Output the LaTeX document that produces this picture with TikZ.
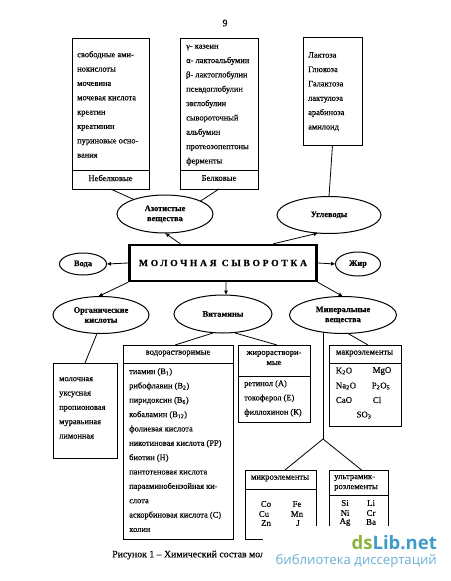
\documentclass[tikz,border=0pt]{standalone}
\usepackage{fontspec}
\setmainfont[FakeBold=0.25]{Liberation Serif}
\newfontfamily\marksans{Open Sans}
\usetikzlibrary{arrows.meta,calc,shapes.geometric}

\definecolor{markgreen}{HTML}{8DB33C}
\definecolor{markblue}{HTML}{3F9BCB}
\definecolor{markpale}{HTML}{6CAFD8}

\tikzset{
    box/.style={draw, line width=0.9pt, minimum width=#1, inner sep=0pt, outer sep=0pt, anchor=north west},
    blob/.style={draw, line width=1pt, ellipse, inner sep=0pt, outer sep=0pt, font=\fontsize{8.4}{10}\selectfont\bfseries, align=center},
    itemtext/.style={anchor=north west, inner sep=0pt, align=left, font=\fontsize{8.4}{14.35}\selectfont},
    headtext/.style={inner sep=0pt, align=center, font=\fontsize{8.6}{10}\selectfont},
    chem/.style={inner sep=0pt, font=\fontsize{8.8}{10}\selectfont},
    link/.style={line width=0.8pt},
    feed/.style={line width=0.8pt, -{Latex[length=4.5pt,width=4pt]}},
}

\begin{document}
\begin{tikzpicture}[x=1pt,y=-1pt]
    \useasboundingbox (0,0) rectangle (450,581);

    % page number
    \node[inner sep=0pt, font=\fontsize{10}{12}\selectfont] (pagenum) at (225,23) {9};

    % boxes of the upper row
    \node[box=77pt, minimum height=151pt] (nonprotein) at (72,38) {};
    \draw[link] (72,170) -- (149,170);
    \node[itemtext] (nonproteinlist) at (77,51) {свободные ами-\\нокислоты\\мочевина\\мочевая кислота\\креатин\\креатинин\\пуриновые осно-\\вания};
    \node[headtext] (nonproteinhead) at (110.5,178) {Небелковые};

    \node[box=78pt, minimum height=151pt] (protein) at (180,38) {};
    \draw[link] (180,170) -- (258,170);
    \node[itemtext] (proteinlist) at (186,44.5) {γ- казеин\\α- лактоальбумин\\β- лактоглобулин\\псевдоглобулин\\эвглобулин\\сывороточный\\альбумин\\протеозопептоны\\ферменты};
    \node[headtext] (proteinhead) at (219,178) {Белковые};

    \node[box=59pt, minimum height=108pt] (sugars) at (303,37) {};
    \node[itemtext] (sugarslist) at (308,52) {Лактоза\\Глюкоза\\Галактоза\\лактулоза\\арабиноза\\амилоид};

    % ellipses
    \node[blob, minimum width=96pt, minimum height=38pt] (azot) at (165,214) {Азотистые\\вещества};
    \node[blob, minimum width=104pt, minimum height=37pt] (carbo) at (329,215) {Углеводы};
    \node[blob, minimum width=47pt, minimum height=22pt] (water) at (83,264) {Вода};
    \node[blob, minimum width=45pt, minimum height=24pt] (fat) at (358,264) {Жир};
    \node[blob, minimum width=96pt, minimum height=37pt] (acids) at (101,315) {Органические\\кислоты};
    \node[blob, minimum width=98pt, minimum height=38pt] (vitamins) at (223,314) {Витамины};
    \node[blob, minimum width=107pt, minimum height=37pt] (minerals) at (343,315) {Минеральные\\вещества};

    % central box
    \node[draw, line width=2.4pt, minimum width=187pt, minimum height=36pt, inner sep=0pt,
        font=\fontsize{9.6}{11}\selectfont\bfseries] (whey) at (223,263) {\raisebox{-3pt}{\addfontfeature{LetterSpace=28}МОЛОЧНАЯ СЫВОРОТКА}};

    % boxes of the lower rows
    \node[box=64pt, minimum height=95pt] (acidsbox) at (53,363) {};
    \node[itemtext] (acidslist) at (59,377) {молочная\\уксусная\\пропионовая\\муравьиная\\лимонная};

    \node[box=110pt, minimum height=194pt] (watersol) at (123,345) {};
    \draw[link] (123,363) -- (233,363);
    \node[headtext] (watersolhead) at (178,353.5) {водорастворимые};
    \node[itemtext] (watersollist) at (129,368) {тиамин (B\textsubscript{1})\\рибофлавин (B\textsubscript{2})\\пиридоксин (B\textsubscript{6})\\кобаламин (B\textsubscript{12})\\фолиевая кислота\\никотиновая кислота (РР)\\биотин (Н)\\пантотеновая кислота\\парааминобензойная ки-\\слота\\аскорбиновая кислота (С)\\холин};

    \node[box=72pt, minimum height=77pt] (fatsol) at (238,345) {};
    \draw[link] (238,376) -- (310,376);
    \node[headtext] (fatsolhead) at (274,358) {жирораствори-\\мые};
    \node[itemtext] (fatsollist) at (244,380) {ретинол (А)\\токоферол (Е)\\филлохинон (К)};

    \node[box=72pt, minimum height=81pt] (macro) at (329,345) {};
    \draw[link] (329,363) -- (401,363);
    \node[headtext] (macrohead) at (364.5,353.5) {макроэлементы};
    \node[chem] (kto) at (344,371) {K\textsubscript{2}O};
    \node[chem] (mgo) at (382,371) {MgO};
    \node[chem] (nato) at (346,386) {Na\textsubscript{2}O};
    \node[chem] (ptoc) at (381,386) {P\textsubscript{2}O\textsubscript{5}};
    \node[chem] (cao) at (344,400) {CaO};
    \node[chem] (cl) at (377,400) {Cl};
    \node[chem] (sot) at (364,415) {SO\textsubscript{3}};

    \node[box=71pt, minimum height=69pt] (micro) at (245,470) {};
    \draw[link] (245,489) -- (316,489);
    \node[headtext] (microhead) at (280,478.5) {микроэлементы};
    \node[chem] (co) at (266,504) {Co};
    \node[chem] (fe) at (297,504) {Fe};
    \node[chem] (cu) at (264,514) {Cu};
    \node[chem] (mn) at (297,514) {Mn};
    \node[chem] (zn) at (266,523) {Zn};
    \node[chem] (jod) at (298,523) {J};

    \node[box=59pt, minimum height=69pt] (ultra) at (329,470) {};
    \draw[link] (329,495) -- (388,495);
    \node[headtext, anchor=west, align=left] (ultrahead) at (334,483) {ультрамик-\\розлементы};
    \node[chem] (si) at (345,503) {Si};
    \node[chem] (li) at (371,503) {Li};
    \node[chem] (ni) at (345,513) {Ni};
    \node[chem] (cr) at (371,513) {Cr};
    \node[chem] (ag) at (345,522) {Ag};
    \node[chem] (ba) at (371,522) {Ba};

    % connectors
    \draw[link] (nonprotein.south) -- (azot.155);
    \draw[link] (protein.south) -- (azot.20);
    \draw[link] (sugars.south) -- (carbo.north);
    \draw[feed] (whey.west) -- (water.east);
    \draw[feed] (whey.east) -- (fat.west);
    \draw[feed] ($(whey.north west)+(52,0)$) -- (azot.south);
    \draw[feed] ($(whey.north west)+(145,0)$) -- (carbo.239);
    \draw[feed] (whey.south west) -- (acids.99);
    \draw[feed] ($(whey.south)+(3,0)$) -- (vitamins.81);
    \draw[feed] (whey.south east) -- (minerals.north);
    \draw[link] ($(acids.south)+(-4,0)$) -- (acidsbox.north);
    \draw[link] ($(vitamins.south)+(-10,0)$) -- ($(watersol.north)+(-3,0)$);
    \draw[link] ($(vitamins.south)+(12,0)$) -- ($(fatsol.north)+(3,0)$);
    \draw[link] ($(minerals.south)+(5,0)$) -- ($(macro.north)+(3,0)$);

    % branch to micro and ultra
    \coordinate (fork) at (323,439);
    \draw[link] ($(fork |- minerals.south)+(0,-2)$) -- (fork);
    \draw[link] (fork) -- ($(micro.north)+(4.5,0)$);
    \draw[link] (fork) -- ($(ultra.north)+(3,0)$);

    % caption and mark
    \node[anchor=west, inner sep=0pt, font=\fontsize{9.8}{12}\selectfont] (caption) at (112,555) {Рисунок 1 – Химический состав молочной};
    \fill[white] (263,525.5) rectangle (450,581);
    \node[anchor=east, inner sep=0pt, font=\marksans\fontsize{18.5}{22}\selectfont\bfseries] (mark) at (437,543) {\textcolor{markgreen}{ds}\textcolor{markblue}{Lib.net}};
    \node[anchor=east, inner sep=0pt, font=\marksans\fontsize{13.2}{15}\selectfont, text=markpale] (markline) at (437,561) {библиотека диссертаций};
\end{tikzpicture}
\end{document}
